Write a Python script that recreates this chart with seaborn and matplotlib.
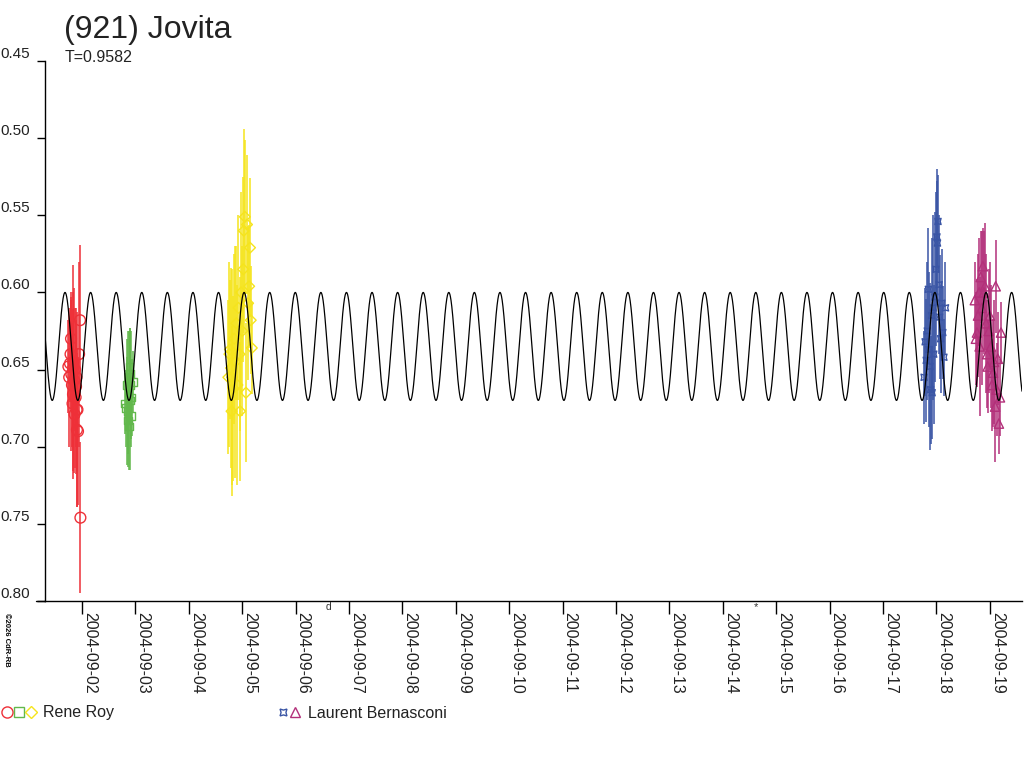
import numpy as np
import pandas as pd
import matplotlib
matplotlib.use("Agg")
import matplotlib.pyplot as plt
from matplotlib.lines import Line2D
from matplotlib.legend_handler import HandlerTuple
import seaborn as sns

# ---------------- data ----------------
TITLE = "(921) Jovita"
PERIOD = 0.9582            # days (T)
MODEL_MEAN = 0.635         # mag
MODEL_AMP = 0.035          # mag
MODEL_EPOCH = 1.682        # day of Sept 2004 of a maximum
X_START, X_END = 1.307, 19.603   # day of Sept 2004
Y_TICKS = [0.45, 0.50, 0.55, 0.60, 0.65, 0.70, 0.75, 0.80]
DATE_TICKS = list(range(2, 20))   # days of September 2004

# Rene Roy - session 1 (red circles)
red_day = [1.745, 1.760, 1.775, 1.785, 1.794, 1.800, 1.812, 1.822, 1.831, 1.835,
           1.840, 1.850, 1.860, 1.870, 1.880, 1.888, 1.896, 1.900, 1.906, 1.915,
           1.925, 1.945, 1.963, 1.970]
red_mag = [0.648, 0.655, 0.646, 0.640, 0.630, 0.653, 0.660, 0.672, 0.666, 0.649,
           0.645, 0.657, 0.679, 0.650, 0.668, 0.661, 0.655, 0.676, 0.689, 0.676,
           0.690, 0.640, 0.618, 0.746]
red_err = [0.030, 0.045, 0.025, 0.035, 0.030, 0.050, 0.040, 0.030, 0.055, 0.067,
           0.045, 0.060, 0.035, 0.040, 0.050, 0.030, 0.045, 0.063, 0.050, 0.040,
           0.048, 0.060, 0.049, 0.049]

# Rene Roy - session 2 (green squares)
green_day = [2.80, 2.82, 2.84, 2.85, 2.86, 2.87, 2.875, 2.88, 2.89, 2.895,
             2.90, 2.91, 2.92, 2.93, 2.95]
green_mag = [0.672, 0.675, 0.660, 0.677, 0.683, 0.665, 0.655, 0.687, 0.648, 0.670,
             0.653, 0.660, 0.680, 0.668, 0.658]
green_err = [0.020, 0.025, 0.030, 0.035, 0.030, 0.040, 0.030, 0.028, 0.025, 0.045,
             0.030, 0.035, 0.020, 0.025, 0.020]

# Rene Roy - session 3 (yellow diamonds)
yellow_day = [4.74, 4.76, 4.77, 4.79, 4.80, 4.81, 4.83, 4.85, 4.87, 4.89,
              4.91, 4.93, 4.95, 4.96, 4.98, 5.00, 5.02, 5.03, 5.05, 5.07,
              5.09, 5.11, 5.13, 5.146, 5.16, 5.18]
yellow_mag = [0.655, 0.640, 0.637, 0.649, 0.677, 0.655, 0.662, 0.630, 0.645, 0.620,
              0.660, 0.610, 0.640, 0.677, 0.600, 0.625, 0.585, 0.560, 0.551, 0.665,
              0.556, 0.607, 0.596, 0.571, 0.618, 0.636]
yellow_err = [0.050, 0.060, 0.045, 0.065, 0.055, 0.070, 0.060, 0.055, 0.075, 0.050,
              0.065, 0.060, 0.050, 0.045, 0.065, 0.055, 0.060, 0.066, 0.050, 0.045,
              0.045, 0.050, 0.040, 0.045, 0.035, 0.030]

# Laurent Bernasconi - session 1 (blue stars)
blue_day = [17.77, 17.79, 17.81, 17.83, 17.85, 17.86, 17.88, 17.89, 17.91, 17.92,
            17.94, 17.95, 17.97, 17.99, 18.01, 18.02, 18.03, 18.05, 18.06, 18.08,
            18.10, 18.12, 18.14, 18.17]
blue_mag = [0.655, 0.632, 0.644, 0.625, 0.598, 0.637, 0.648, 0.663, 0.615, 0.665,
            0.610, 0.640, 0.603, 0.585, 0.564, 0.568, 0.554, 0.595, 0.616, 0.630,
            0.607, 0.626, 0.642, 0.610]
blue_err = [0.030, 0.035, 0.040, 0.045, 0.040, 0.050, 0.054, 0.035, 0.050, 0.030,
            0.060, 0.045, 0.055, 0.050, 0.044, 0.040, 0.030, 0.045, 0.040, 0.035,
            0.035, 0.030, 0.025, 0.030]

# Laurent Bernasconi - session 2 (magenta triangles)
mag_day = [18.72, 18.74, 18.76, 18.78, 18.80, 18.81, 18.83, 18.85, 18.87, 18.89,
           18.91, 18.93, 18.95, 18.96, 18.98, 19.00, 19.02, 19.04, 19.06, 19.08,
           19.10, 19.11, 19.13, 19.15, 19.17, 19.19, 19.21]
mag_mag = [0.605, 0.630, 0.626, 0.615, 0.600, 0.635, 0.590, 0.610, 0.583, 0.600,
           0.596, 0.620, 0.640, 0.648, 0.625, 0.615, 0.635, 0.660, 0.652, 0.645,
           0.674, 0.596, 0.663, 0.643, 0.685, 0.668, 0.626]
mag_err = [0.025, 0.030, 0.035, 0.040, 0.035, 0.045, 0.030, 0.050, 0.025, 0.040,
           0.041, 0.045, 0.035, 0.030, 0.040, 0.035, 0.040, 0.030, 0.035, 0.040,
           0.036, 0.030, 0.030, 0.030, 0.020, 0.025, 0.020]

OBS1 = "Rene Roy"
OBS2 = "Laurent Bernasconi"
COPYRIGHT = "\u00a92026 CdR-RB"

# ---------------- styles ----------------
series = [
    (red_day, red_mag, red_err, "#ee3038", "o", 60),
    (green_day, green_mag, green_err, "#62b84c", "s", 30),
    (yellow_day, yellow_mag, yellow_err, "#f5e41c", "D", 30),
    (blue_day, blue_mag, blue_err, "#3a55a5", (4, 1, 45), 40),
    (mag_day, mag_mag, mag_err, "#b3307a", "^", 45),
]

BASE = pd.Timestamp("2004-09-01")


def to_date(days):
    return BASE + pd.to_timedelta(np.asarray(days, dtype=float) - 1.0, unit="D")


sns.set_style("white")
plt.rcParams["font.family"] = ["Liberation Sans", "DejaVu Sans"]

W, H = 1024, 768
fig = plt.figure(figsize=(W / 100, H / 100), dpi=100)
ax = fig.add_axes([45 / W, 1 - 601 / H, (1022 - 45) / W, 540 / H])

# error bars + points
for d, m, e, col, mk, sz in series:
    dates = to_date(d)
    ax.errorbar(dates, m, yerr=e, fmt="none", ecolor=col, elinewidth=1.1,
                capsize=0, zorder=2)
    sns.scatterplot(x=dates, y=m, marker=mk, s=sz, color=col, ax=ax,
                    zorder=3, legend=False)
    pts = ax.collections[-1]
    pts.set_facecolor("none")
    pts.set_edgecolor(col)
    pts.set_linewidth(1.0)

# model curve
t = np.linspace(X_START, X_END, 6000)
model = MODEL_MEAN - MODEL_AMP * np.cos(4 * np.pi * (t - MODEL_EPOCH) / PERIOD)
curve = pd.DataFrame({"date": to_date(t), "mag": model})
sns.lineplot(data=curve, x="date", y="mag", color="black", lw=0.9,
             estimator=None, sort=False, ax=ax, zorder=4)

ax.set_xlim(to_date([X_START])[0], to_date([X_END])[0])
ax.set_ylim(0.80, 0.45)
ax.set_xlabel("")
ax.set_ylabel("")

for s in ["top", "right"]:
    ax.spines[s].set_visible(False)
for s in ["left", "bottom"]:
    ax.spines[s].set_color("black")
    ax.spines[s].set_linewidth(1.0)

ax.set_yticks(Y_TICKS)
ax.set_yticklabels([f"{v:.2f}" for v in Y_TICKS])
tick_dates = to_date(DATE_TICKS)
ax.set_xticks(tick_dates)
ax.set_xticklabels([d.strftime("%Y-%m-%d") for d in tick_dates])

ax.tick_params(axis="y", direction="out", length=6, width=1, pad=5,
               labelsize=11, color="black", labelcolor="#222222", left=True)
ax.tick_params(axis="x", direction="out", length=9, width=1, pad=-1,
               labelsize=11.5, color="black", labelcolor="#222222", bottom=True)
for lab in ax.get_yticklabels():
    lab.set_va("bottom")
for lab in ax.get_xticklabels():
    lab.set_rotation(270)
    lab.set_ha("left")
    lab.set_va("top")

# extend x axis line slightly to the left (as in the reference)
fig.add_artist(Line2D([36 / W, 45 / W], [1 - 601 / H, 1 - 601 / H],
                      transform=fig.transFigure, color="black", lw=1.0))

# titles
fig.text(64 / W, 1 - 30 / H, TITLE, fontsize=23, ha="left", va="center",
         color="#222222")
fig.text(65 / W, 1 - 57 / H, f"T={PERIOD:.4f}", fontsize=11.5, ha="left",
         va="center", color="#222222")
fig.text(6 / W, 1 - 613 / H, COPYRIGHT, fontsize=5.5, fontweight="bold",
         rotation=270, ha="center", va="top", color="black")

# small stray glyphs under the axis
fig.text(328 / W, 1 - 607 / H, "d", fontsize=7.5, ha="center", va="center",
         color="#333333")
fig.text(756 / W, 1 - 607 / H, "*", fontsize=8, ha="center", va="center",
         color="#333333")


def handle(col, mk, ms):
    return Line2D([], [], ls="none", marker=mk, markersize=ms,
                  markerfacecolor="none", markeredgecolor=col,
                  markeredgewidth=1.0)


h1 = (handle(series[0][3], "o", 8), handle(series[1][3], "s", 6.5),
      handle(series[2][3], "D", 6))
h2 = (handle(series[3][3], (4, 1, 45), 7), handle(series[4][3], "^", 7.5))

leg1 = fig.legend([h1], [OBS1], loc="center left",
                  bbox_to_anchor=(1 / W, 1 - 713 / H), frameon=False,
                  fontsize=11.5, handlelength=2.25, handletextpad=0.35,
                  borderpad=0, borderaxespad=0, numpoints=1,
                  handler_map={tuple: HandlerTuple(ndivide=None, pad=0)})
leg2 = fig.legend([h2], [OBS2], loc="center left",
                  bbox_to_anchor=(277 / W, 1 - 713 / H), frameon=False,
                  fontsize=11.5, handlelength=1.5, handletextpad=0.45,
                  borderpad=0, borderaxespad=0, numpoints=1,
                  handler_map={tuple: HandlerTuple(ndivide=None, pad=0)})
for lg in (leg1, leg2):
    for tx in lg.get_texts():
        tx.set_color("#222222")

fig.savefig("out.png", dpi=100)
